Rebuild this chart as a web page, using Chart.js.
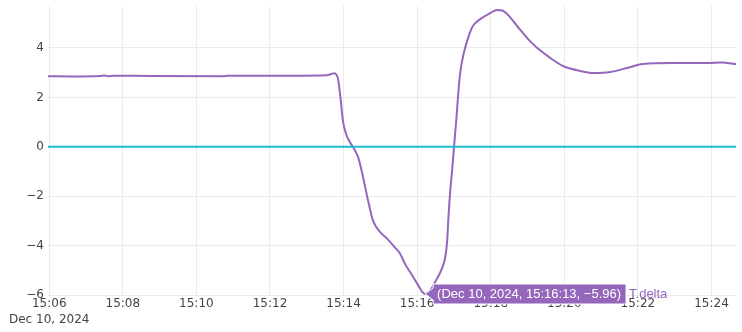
<!DOCTYPE html>
<html>
<head>
<meta charset="utf-8">
<script src="https://cdn.jsdelivr.net/npm/chart.js@4.4.1/dist/chart.umd.min.js"></script>
<style>
  html, body { margin: 0; padding: 0; background: #fff; }
  #wrap { width: 742px; height: 332px; }
</style>
</head>
<body>
<div id="wrap"><canvas id="chart" width="742" height="332"></canvas></div>
<script>
const dateLabel = "Dec 10, 2024";
const seriesName = "T.delta";

const deltaTimes = [
  "15:05:58", "15:06:39", "15:07:23", "15:07:30", "15:07:36", "15:07:44", "15:08:45", "15:10:44",
  "15:10:50", "15:12:33", "15:13:33", "15:13:40", "15:13:45", "15:13:48", "15:13:51", "15:13:55",
  "15:13:59", "15:14:04", "15:14:11", "15:14:17", "15:14:24", "15:14:32", "15:14:40", "15:14:48",
  "15:14:59", "15:15:11", "15:15:24", "15:15:32", "15:15:40", "15:15:52", "15:16:02", "15:16:08",
  "15:16:13", "15:16:20", "15:16:29", "15:16:41", "15:16:46", "15:16:49", "15:16:51", "15:16:54",
  "15:16:57", "15:17:00", "15:17:04", "15:17:07", "15:17:10", "15:17:15", "15:17:23", "15:17:31",
  "15:17:43", "15:17:59", "15:18:10", "15:18:19", "15:18:27", "15:18:43", "15:19:01", "15:19:16",
  "15:19:37", "15:19:58", "15:20:26", "15:20:47", "15:21:15", "15:21:42", "15:22:08", "15:22:57",
  "15:23:53", "15:24:17", "15:24:40"
];
const deltaValues = [
  2.86, 2.85, 2.87, 2.89, 2.86, 2.88, 2.87, 2.86,
  2.88, 2.88, 2.90, 2.95, 2.98, 2.93, 2.75, 1.98,
  1.05, 0.53, 0.16, -0.08, -0.44, -1.25, -2.18, -2.99,
  -3.43, -3.72, -4.08, -4.32, -4.73, -5.21, -5.62, -5.86,
  -5.96, -5.86, -5.49, -4.89, -4.44, -3.80, -2.87, -1.78,
  -0.97, -0.04, 1.13, 2.14, 2.95, 3.68, 4.40, 4.89,
  5.17, 5.41, 5.54, 5.52, 5.37, 4.89, 4.36, 4.00,
  3.60, 3.27, 3.07, 2.99, 3.03, 3.19, 3.35, 3.39,
  3.39, 3.41, 3.35
];

const zeroTimes = ["15:05:58", "15:24:40"];
const zeroValues = [0, 0];

const xTicks = ["15:06", "15:08", "15:10", "15:12", "15:14", "15:16", "15:18", "15:20", "15:22", "15:24"];
const yTicks = [-6, -4, -2, 0, 2, 4];
const xRange = ["15:05:58", "15:24:40"];
const yRange = [-6, 5.7];

const PURPLE = "#9467bd";
const CYAN = "#17becf";
const GRID = "#ebebeb";
const TICK_FONT = { family: "'DejaVu Sans', Verdana, sans-serif", size: 12, lineHeight: 1.34 };

function toMin(s) {
  const p = s.split(":").map(Number);
  return p[0] * 60 + p[1] + (p[2] || 0) / 60;
}
function fmtNum(v) {
  return v < 0 ? "\u2212" + Math.abs(v) : String(v);
}

const minIndex = deltaValues.indexOf(Math.min(...deltaValues));

// plotly-style hover label pinned at the minimum
const hoverLabel = {
  id: "hoverLabel",
  afterDraw(chart) {
    const ctx = chart.ctx;
    const px = chart.scales.x.getPixelForValue(toMin(deltaTimes[minIndex]));
    const py = chart.scales.y.getPixelForValue(deltaValues[minIndex]);
    const text = `(${dateLabel}, ${deltaTimes[minIndex]}, ${fmtNum(deltaValues[minIndex])})`;
    ctx.save();
    ctx.font = "13px 'Liberation Sans', Arial, sans-serif";
    const tw = ctx.measureText(text).width;
    const bx = px + 8, bh = 20, by = py - bh / 2;
    const bw = tw + 9;
    ctx.beginPath();
    ctx.moveTo(px, py);
    ctx.lineTo(bx, py - 6);
    ctx.lineTo(bx, by);
    ctx.lineTo(bx + bw, by);
    ctx.lineTo(bx + bw, by + bh);
    ctx.lineTo(bx, by + bh);
    ctx.lineTo(bx, py + 6);
    ctx.closePath();
    ctx.fillStyle = PURPLE;
    ctx.fill();
    ctx.strokeStyle = "#ffffff";
    ctx.lineWidth = 1;
    ctx.stroke();
    ctx.textBaseline = "middle";
    ctx.fillStyle = "#ffffff";
    ctx.fillText(text, bx + 4, py);
    ctx.fillStyle = PURPLE;
    ctx.fillText(seriesName, bx + bw + 3, py);
    ctx.restore();
  }
};

new Chart(document.getElementById("chart"), {
  type: "line",
  data: {
    datasets: [
      {
        label: "zero",
        data: zeroTimes.map((t, i) => ({ x: toMin(t), y: zeroValues[i] })),
        borderColor: CYAN,
        borderWidth: 2,
        pointRadius: 0,
      },
      {
        label: seriesName,
        data: deltaTimes.map((t, i) => ({ x: toMin(t), y: deltaValues[i] })),
        borderColor: PURPLE,
        borderWidth: 2,
        pointRadius: 0,
        cubicInterpolationMode: "monotone",
      },
    ],
  },
  options: {
    responsive: false,
    animation: false,
    layout: { padding: { top: 6, right: 6, left: 0, bottom: 0 } },
    plugins: { legend: { display: false }, tooltip: { enabled: false } },
    scales: {
      x: {
        type: "linear",
        min: toMin(xRange[0]),
        max: toMin(xRange[1]),
        afterBuildTicks: s => { s.ticks = xTicks.map(t => ({ value: toMin(t) })); },
        afterFit: s => { s.height = 37; s.paddingLeft = 0; s.paddingRight = 0; },
        ticks: {
          autoSkip: false,
          maxRotation: 0,
          padding: 1,
          color: "#444",
          font: TICK_FONT,
          callback: (v, i) => (i === 0 ? [xTicks[i], dateLabel] : xTicks[i]),
        },
        grid: { color: GRID, drawTicks: false },
        border: { display: false },
      },
      y: {
        min: yRange[0],
        max: yRange[1],
        afterBuildTicks: s => { s.ticks = yTicks.map(v => ({ value: v })); },
        afterFit: s => { s.width = 48; s.paddingTop = 0; s.paddingBottom = 0; },
        ticks: { padding: 4, color: "#444", font: TICK_FONT, callback: v => fmtNum(v) },
        grid: { color: GRID, drawTicks: false },
        border: { display: false },
      },
    },
  },
  plugins: [hoverLabel],
});
</script>
</body>
</html>
